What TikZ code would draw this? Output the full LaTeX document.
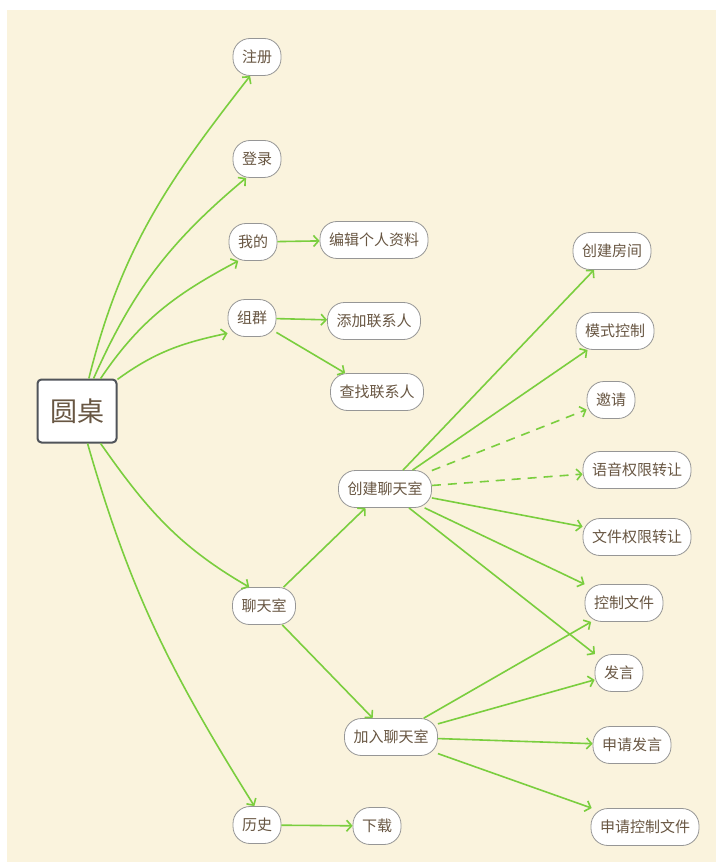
\documentclass[tikz,border=0pt]{standalone}
\usepackage{fontspec}
\newfontfamily\cjk{Noto Sans CJK SC}
\usetikzlibrary{arrows.meta}
\definecolor{bgc}{RGB}{250,243,221}
\definecolor{edgec}{RGB}{122,206,62}
\definecolor{txtc}{RGB}{104,86,66}
\definecolor{bordc}{RGB}{150,150,150}
\definecolor{rootb}{RGB}{80,84,90}
\tikzset{
  leaf/.style={rectangle, rounded corners=17pt, draw=bordc, fill=white, line width=0.8pt,
    minimum height=37pt, inner xsep=9pt, inner ysep=0pt, text=txtc,
    font=\cjk\fontsize{15}{15}\selectfont},
  rootnode/.style={rectangle, rounded corners=4pt, draw=rootb, fill=white, line width=2pt,
    minimum width=79pt, minimum height=63pt, text=txtc,
    font=\cjk\fontsize{27}{27}\selectfont},
  conn/.style={draw=edgec, line width=1.6pt, -{Straight Barb[length=5pt,width=11pt]}},
  dconn/.style={conn, dash pattern=on 9pt off 7pt},
}
\begin{document}
\begin{tikzpicture}[x=1pt,y=1pt]
\useasboundingbox (0,0) rectangle (716,-866);
\fill[bgc] (7,-10) rectangle (716,-862);

\node[rootnode] (root) at (77,-411) {圆桌};

\node[leaf] (zhuce) at (257,-57) {注册};
\node[leaf] (denglu) at (257,-159) {登录};
\node[leaf] (wode) at (253,-242) {我的};
\node[leaf] (bianji) at (374,-240) {编辑个人资料};
\node[leaf] (zuqun) at (252,-318) {组群};
\node[leaf] (tianjia) at (374,-321) {添加联系人};
\node[leaf] (chazhao) at (377,-392) {查找联系人};
\node[leaf] (chuangjian) at (385,-489) {创建聊天室};
\node[leaf] (liaotian) at (264,-606) {聊天室};
\node[leaf] (jiaru) at (391,-737) {加入聊天室};
\node[leaf] (lishi) at (257,-825) {历史};
\node[leaf] (xiazai) at (377,-826) {下载};

\node[leaf] (fangjian) at (612,-251) {创建房间};
\node[leaf] (moshi) at (615,-331) {模式控制};
\node[leaf] (yaoqing) at (611,-400) {邀请};
\node[leaf] (yuyin) at (637,-470) {语音权限转让};
\node[leaf] (wenjian) at (637,-537) {文件权限转让};
\node[leaf] (kongzhi) at (624,-603) {控制文件};
\node[leaf] (fayan) at (619,-673) {发言};
\node[leaf] (shenqing) at (632,-745) {申请发言};
\node[leaf] (shenqingkz) at (645,-827) {申请控制文件};

% root branches
\draw[conn] (root.70) to[out=76,in=232] (zhuce.250);
\draw[conn] (root.63) to[out=66,in=220] (denglu.240);
\draw[conn] (root.54) to[out=56,in=208] (wode.232);
\draw[conn] (root.38) to[out=36,in=192] (zuqun.212);
\draw[conn] (root.-54) to[out=-55,in=150] (liaotian.128);
\draw[conn] (root.-72) to[out=-74,in=122] (lishi.98);

% second level
\draw[conn] (wode) -- (bianji);
\draw[conn] (zuqun) -- (tianjia);
\draw[conn] (zuqun) -- (chazhao);
\draw[conn] (liaotian) -- (chuangjian);
\draw[conn] (liaotian) -- (jiaru);
\draw[conn] (lishi) -- (xiazai);

% create chat room
\draw[conn] (chuangjian) -- (fangjian);
\draw[conn] (chuangjian) -- (moshi);
\draw[dconn] (chuangjian) -- (yaoqing);
\draw[dconn] (chuangjian) -- (yuyin);
\draw[conn] (chuangjian) -- (wenjian);
\draw[conn] (chuangjian) -- (kongzhi);
\draw[conn] (chuangjian) -- (fayan);

% join chat room
\draw[conn] (jiaru) -- (kongzhi);
\draw[conn] (jiaru) -- (fayan);
\draw[conn] (jiaru) -- (shenqing);
\draw[conn] (jiaru) -- (shenqingkz);
\end{tikzpicture}
\end{document}
